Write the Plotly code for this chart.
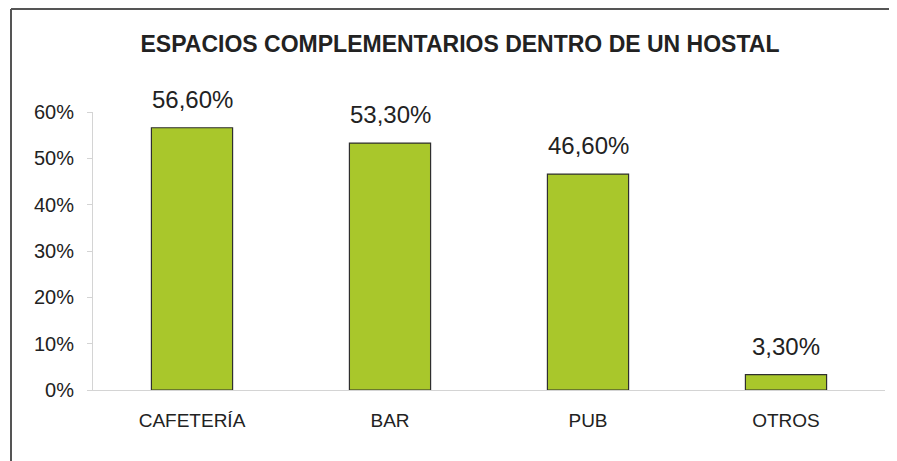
import plotly.graph_objects as go

# ── Data ─────────────────────────────────────────────────────────────────────
categories = ["CAFETERÍA", "BAR", "PUB", "OTROS"]
values = [0.566, 0.533, 0.466, 0.033]
value_labels = ["56,60%", "53,30%", "46,60%", "3,30%"]
y_ticks = [0, 0.1, 0.2, 0.3, 0.4, 0.5, 0.6]
y_tick_labels = ["0%", "10%", "20%", "30%", "40%", "50%", "60%"]

# ── Style ────────────────────────────────────────────────────────────────────
BAR_COLOR = "#A9C72B"
EDGE_COLOR = "#2f2f2f"
TEXT_COLOR = "#222222"
AXIS_COLOR = "#d4d4d4"
FONT = "Liberation Sans, Arial, sans-serif"

# page body adds an 8px margin, so the figure is sized/placed to compensate
OFF = 8
W, H = 897 - OFF, 461 - OFF
M_L, M_R, M_T, M_B = 93 - OFF, 12, 112 - OFF, 71
plot_w = W - M_L - M_R
plot_h = H - M_T - M_B

fig = go.Figure(go.Bar(
    x=categories,
    y=values,
    marker=dict(color=BAR_COLOR, line=dict(color=EDGE_COLOR, width=1.2)),
    width=0.41,
    hoverinfo="x+y",
))

# value labels above the bars
for cat, val, lab in zip(categories, values, value_labels):
    fig.add_annotation(x=cat, y=val, text=lab, showarrow=False,
                       yanchor="bottom", yshift=13,
                       font=dict(size=24, color=TEXT_COLOR, family=FONT))

# frame lines (top and left only, as in the scan)
fx = (11 - OFF - M_L) / plot_w
fy = (H - M_B - (9 - OFF)) / plot_h
fig.add_shape(type="line", xref="paper", yref="paper",
              x0=fx, x1=(W - M_L) / plot_w, y0=fy, y1=fy,
              line=dict(color="#555555", width=2))
fig.add_shape(type="line", xref="paper", yref="paper",
              x0=fx, x1=fx, y0=fy, y1=-M_B / plot_h,
              line=dict(color="#555555", width=2))

fig.update_layout(
    width=W, height=H,
    margin=dict(l=M_L, r=M_R, t=M_T, b=M_B),
    paper_bgcolor="white",
    plot_bgcolor="white",
    font=dict(family=FONT, color=TEXT_COLOR),
    showlegend=False,
    title=dict(
        text="<b>ESPACIOS COMPLEMENTARIOS DENTRO DE UN HOSTAL</b>",
        x=(460 - OFF) / W, xanchor="center",
        y=1 - (44 - OFF) / H, yanchor="middle",
        font=dict(size=23, color=TEXT_COLOR, family=FONT),
    ),
    xaxis=dict(
        showline=True, linecolor=AXIS_COLOR, linewidth=1,
        ticks="", showgrid=False,
        tickfont=dict(size=19, color=TEXT_COLOR, family=FONT),
        ticklabelstandoff=13,
    ),
    yaxis=dict(
        range=[0, 0.6],
        tickvals=y_ticks, ticktext=y_tick_labels,
        showline=True, linecolor=AXIS_COLOR, linewidth=1,
        ticks="outside", ticklen=5, tickcolor=AXIS_COLOR,
        showgrid=False, zeroline=False,
        tickfont=dict(size=20, color=TEXT_COLOR, family=FONT),
        ticklabelstandoff=9,
    ),
)

fig.write_html("out.html")
